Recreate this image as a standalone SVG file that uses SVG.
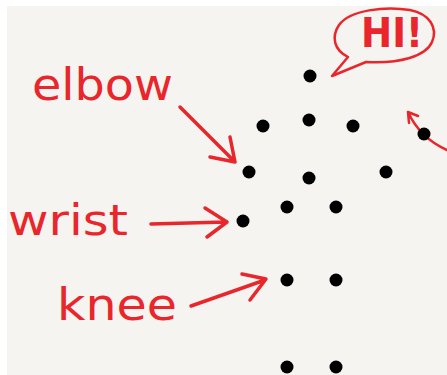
<svg xmlns="http://www.w3.org/2000/svg" width="447" height="375" viewBox="0 0 447 375">
<defs>
<style>
.bg{fill:#f5f4f0}
.dot{fill:#000}
.lbl{fill:#e8262b;font-family:"DejaVu Sans",sans-serif;font-weight:normal}
.hi{fill:#e8262b;font-family:"DejaVu Sans",sans-serif;font-weight:bold}
.ink{fill:none;stroke:#e8262b;stroke-width:3.5;stroke-linecap:round;stroke-linejoin:round}
.thin{fill:none;stroke:#e8262b;stroke-width:2.5;stroke-linecap:round;stroke-linejoin:round}
</style>
</defs>
<rect x="0" y="0" width="447" height="375" fill="#ffffff"/>
<rect class="bg" x="7" y="6" width="440" height="369"/>

<g id="bubble">
<path class="thin" d="M348,57 C334,50 331,37 339,25 C350,10 385,6 410,10 C430,14 438,28 432,42 C426,56 400,64 366,62 L332,76 Z"/>
<text class="hi" x="361" y="47" font-size="40" textLength="62" lengthAdjust="spacingAndGlyphs">HI!</text>
</g>

<g id="label-elbow"><text class="lbl" x="32" y="100" font-size="44" textLength="141" lengthAdjust="spacingAndGlyphs">elbow</text></g>
<g id="label-wrist"><text class="lbl" x="8" y="235" font-size="42" textLength="120" lengthAdjust="spacingAndGlyphs">wrist</text></g>
<g id="label-knee"><text class="lbl" x="57" y="320" font-size="44" textLength="120" lengthAdjust="spacingAndGlyphs">knee</text></g>

<g id="connectors">
<path class="ink" d="M180,107 L235,162 M230,137 L235,162 L210,157"/>
<path class="ink" d="M151,224 L226,222 M205,208 L227,222 L207,237"/>
<path class="ink" d="M191,306 L265,280 M242,274 L266,279 L250,300"/>
<path class="thin" d="M408,112 Q420,138 447,150 M408,112 L418,116 M408,112 L409,123"/>
</g>

<g id="head"><circle class="dot" cx="310" cy="76" r="6.5"/></g>
<g id="shoulder-l"><circle class="dot" cx="263" cy="126" r="6.5"/></g>
<g id="neck"><circle class="dot" cx="309" cy="120" r="6.5"/></g>
<g id="shoulder-r"><circle class="dot" cx="353" cy="126" r="6.5"/></g>
<g id="hand-r"><circle class="dot" cx="424" cy="134" r="6.5"/></g>
<g id="elbow-l"><circle class="dot" cx="249" cy="172" r="6.5"/></g>
<g id="torso"><circle class="dot" cx="309" cy="178" r="6.5"/></g>
<g id="elbow-r"><circle class="dot" cx="386" cy="172" r="6.5"/></g>
<g id="hip-l"><circle class="dot" cx="287" cy="207" r="6.5"/></g>
<g id="hip-r"><circle class="dot" cx="336" cy="207" r="6.5"/></g>
<g id="wrist-l"><circle class="dot" cx="243" cy="221" r="6.5"/></g>
<g id="knee-l"><circle class="dot" cx="287" cy="280" r="6.5"/></g>
<g id="knee-r"><circle class="dot" cx="336" cy="280" r="6.5"/></g>
<g id="foot-l"><circle class="dot" cx="287" cy="367" r="6.5"/></g>
<g id="foot-r"><circle class="dot" cx="336" cy="367" r="6.5"/></g>
</svg>
